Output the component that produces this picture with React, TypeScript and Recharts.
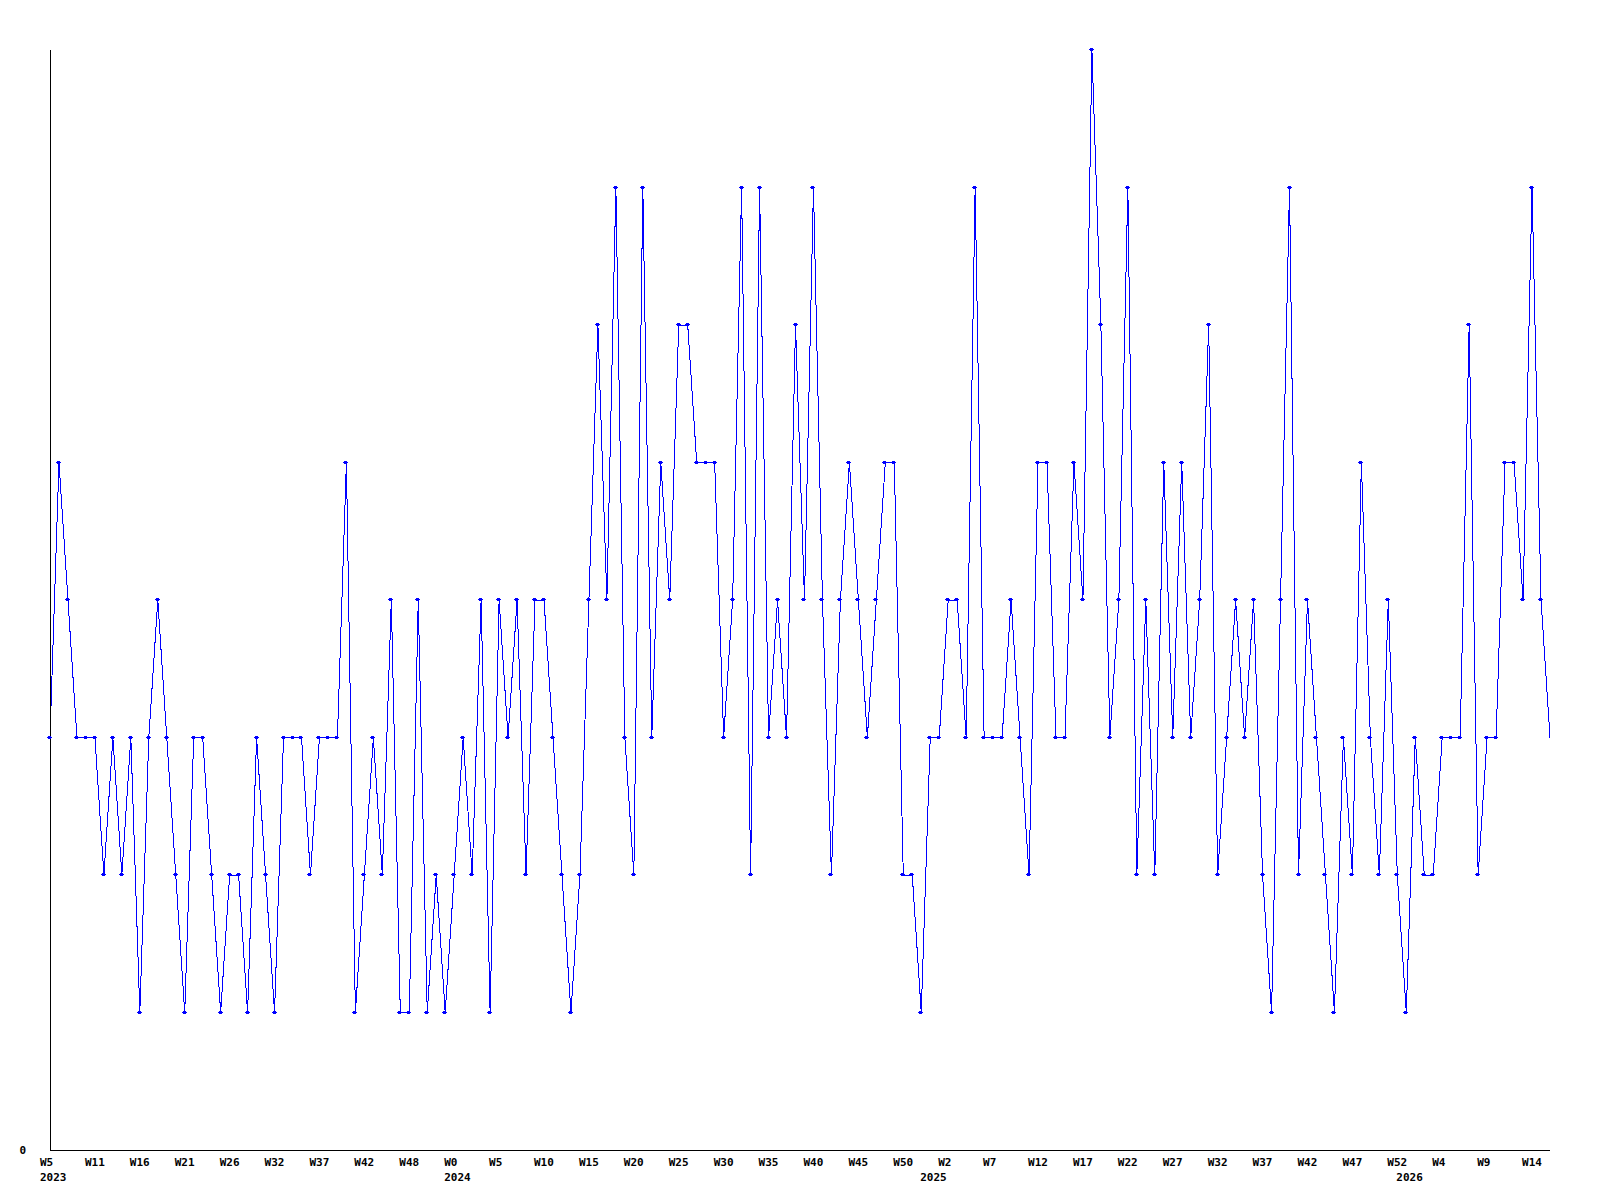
import React from 'react';
import { LineChart, Line, XAxis, YAxis } from 'recharts';

// Weekly counts, W5 2023 .. W15 2026
const counts = [
  3, 5, 4, 3, 3, 3, 2, 3, 2, 3,
  1, 3, 4, 3, 2, 1, 3, 3, 2, 1,
  2, 2, 1, 3, 2, 1, 3, 3, 3, 2,
  3, 3, 3, 5, 1, 2, 3, 2, 4, 1,
  1, 4, 1, 2, 1, 2, 3, 2, 4, 1,
  4, 3, 4, 2, 4, 4, 3, 2, 1, 2,
  4, 6, 4, 7, 3, 2, 7, 3, 5, 4,
  6, 6, 5, 5, 5, 3, 4, 7, 2, 7,
  3, 4, 3, 6, 4, 7, 4, 2, 4, 5,
  4, 3, 4, 5, 5, 2, 2, 1, 3, 3,
  4, 4, 3, 7, 3, 3, 3, 4, 3, 2,
  5, 5, 3, 3, 5, 4, 8, 6, 3, 4,
  7, 2, 4, 2, 5, 3, 5, 3, 4, 6,
  2, 3, 4, 3, 4, 2, 1, 4, 7, 2,
  4, 3, 2, 1, 3, 2, 5, 3, 2, 4,
  2, 1, 3, 2, 2, 3, 3, 3, 6, 2,
  3, 3, 5, 5, 4, 7, 4, 3,
];

// Week labels, one every 5 points
const weekTicks = [0, 5, 10, 15, 20, 25, 30, 35, 40, 45, 50, 55, 60, 65, 70, 75, 80, 85, 90, 95, 100,
  105, 110, 115, 120, 125, 130, 135, 140, 145, 150, 155, 160, 165];
const weekLabels = ['W5', 'W11', 'W16', 'W21', 'W26', 'W32', 'W37', 'W42', 'W48', 'W0', 'W5', 'W10',
  'W15', 'W20', 'W25', 'W30', 'W35', 'W40', 'W45', 'W50', 'W2', 'W7', 'W12', 'W17', 'W22', 'W27',
  'W32', 'W37', 'W42', 'W47', 'W52', 'W4', 'W9', 'W14'];

// Year labels and the point where each year starts
const yearTicks = [0, 45, 98, 151];
const yearLabels = ['2023', '2024', '2025', '2026'];

const yTicks = [0];

const FONT = '"DejaVu Sans Mono", monospace';

const data = counts.map((v, i) => ({ i, v }));
const lastIdx = counts.length - 1;

const WeekTick = (props: any) => {
  const { x, y, payload } = props;
  const k = weekTicks.indexOf(payload.value);
  return (
    <text x={x - 10} y={y + 16} textAnchor="start" fontFamily={FONT} fontWeight="bold" fontSize={11} fill="#000">
      {weekLabels[k]}
    </text>
  );
};

const YearTick = (props: any) => {
  const { x, y, payload } = props;
  const k = yearTicks.indexOf(payload.value);
  return (
    <text x={x - 10} y={y + 15} textAnchor="start" fontFamily={FONT} fontWeight="bold" fontSize={11} fill="#000">
      {yearLabels[k]}
    </text>
  );
};

const ZeroTick = (props: any) => {
  const { x, y, payload } = props;
  return (
    <text x={x - 24} y={y + 4} textAnchor="end" fontFamily={FONT} fontWeight="bold" fontSize={11} fill="#000">
      {payload.value}
    </text>
  );
};

// small plus-like marker, none on the last point
const Marker = (props: any) => {
  const { cx, cy, index } = props;
  if (index === lastIdx || cx == null) return null;
  const px = Math.round(cx);
  const py = Math.round(cy);
  return (
    <g key={`m-${index}`} fill="#0000ff">
      <rect x={px - 3} y={py - 1} width={5} height={1} />
      <rect x={px - 2} y={py - 2} width={3} height={3} />
    </g>
  );
};

export default function App() {
  return (
    <div style={{ position: 'absolute', left: 0, top: 0, width: 1600, height: 1200, background: '#fff' }}>
      <LineChart
        width={1600}
        height={1200}
        data={data}
        margin={{ top: 50, right: 50, left: 0, bottom: 0 }}
        style={{ shapeRendering: 'crispEdges' }}
      >
        <XAxis
          dataKey="i"
          type="number"
          domain={[0, lastIdx]}
          ticks={weekTicks}
          interval={0}
          tick={<WeekTick />}
          tickLine={false}
          tickSize={0}
          tickMargin={0}
          height={16}
          axisLine={{ stroke: '#000', strokeWidth: 1 }}
        />
        <XAxis
          xAxisId="yr"
          dataKey="i"
          type="number"
          domain={[0, lastIdx]}
          ticks={yearTicks}
          interval={0}
          tick={<YearTick />}
          tickLine={false}
          tickSize={0}
          tickMargin={0}
          height={34}
          axisLine={false}
        />
        <YAxis
          type="number"
          domain={[0, 8]}
          ticks={yTicks}
          interval={0}
          width={50}
          tick={<ZeroTick />}
          tickLine={false}
          tickSize={0}
          tickMargin={0}
          axisLine={{ stroke: '#000', strokeWidth: 1 }}
        />
        <Line
          type="linear"
          dataKey="v"
          stroke="#0000ff"
          strokeWidth={1}
          dot={<Marker />}
          activeDot={false}
          isAnimationActive={false}
        />
      </LineChart>
    </div>
  );
}
